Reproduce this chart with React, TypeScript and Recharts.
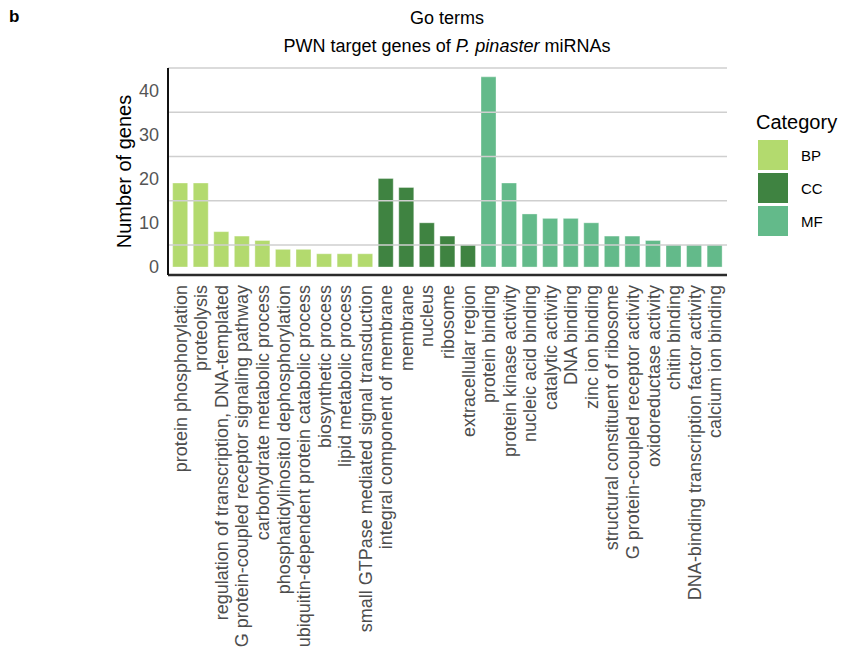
import React from "react";
import {
  BarChart,
  Bar,
  Cell,
  XAxis,
  YAxis,
  ReferenceLine,
  Label,
} from "recharts";

// GO terms and gene counts, grouped by category
const terms = [
  "protein phosphorylation",
  "proteolysis",
  "regulation of transcription, DNA-templated",
  "G protein-coupled receptor signaling pathway",
  "carbohydrate metabolic process",
  "phosphatidylinositol dephosphorylation",
  "ubiquitin-dependent protein catabolic process",
  "biosynthetic process",
  "lipid metabolic process",
  "small GTPase mediated signal transduction",
  "integral component of membrane",
  "membrane",
  "nucleus",
  "ribosome",
  "extracellular region",
  "protein binding",
  "protein kinase activity",
  "nucleic acid binding",
  "catalytic activity",
  "DNA binding",
  "zinc ion binding",
  "structural constituent of ribosome",
  "G protein-coupled receptor activity",
  "oxidoreductase activity",
  "chitin binding",
  "DNA-binding transcription factor activity",
  "calcium ion binding",
];

const geneCounts = [
  19, 19, 8, 7, 6, 4, 4, 3, 3, 3,
  20, 18, 10, 7, 5,
  43, 19, 12, 11, 11, 10, 7, 7, 6, 5, 5, 5,
];

const termCategory = [
  "BP", "BP", "BP", "BP", "BP", "BP", "BP", "BP", "BP", "BP",
  "CC", "CC", "CC", "CC", "CC",
  "MF", "MF", "MF", "MF", "MF", "MF", "MF", "MF", "MF", "MF", "MF", "MF",
];

const categories = ["BP", "CC", "MF"];
const yTicks = [0, 10, 20, 30, 40];
const gridValues = [5, 15, 25, 35, 45];

const categoryColors: Record<string, string> = {
  BP: "#abd65e",
  CC: "#2a752c",
  MF: "#52b27d",
};

const FONT = '"Liberation Sans", Arial, Helvetica, sans-serif';

const data = terms.map((term, i) => ({
  term,
  genes: geneCounts[i],
  category: termCategory[i],
}));

function TermTick({ x, y, payload }: any) {
  return (
    <text
      transform={`translate(${x},${y}) rotate(-90)`}
      textAnchor="end"
      dy="0.36em"
      fontSize={18}
      fontFamily={FONT}
      fill="#4d4d4d"
    >
      {payload.value}
    </text>
  );
}

export default function App() {
  return (
    <div
      style={{
        position: "absolute",
        left: 0,
        top: 0,
        width: 843,
        height: 660,
        background: "#fff",
        fontFamily: FONT,
      }}
    >
      <div style={{ position: "absolute", left: 9, top: 7, fontSize: 17, fontWeight: "bold" }}>b</div>
      <div
        style={{
          position: "absolute",
          left: 197,
          width: 500,
          top: 4,
          textAlign: "center",
          fontSize: 18,
          lineHeight: "28px",
          color: "#000",
        }}
      >
        <div>Go terms</div>
        <div>
          PWN target genes of <i>P. pinaster</i> miRNAs
        </div>
      </div>

      <BarChart
        width={843}
        height={660}
        data={data}
        margin={{ top: 68, right: 116, bottom: 5, left: 80 }}
        barCategoryGap="13%"
      >
        <XAxis
          dataKey="term"
          interval={0}
          height={380}
          tickSize={0}
          tickMargin={10}
          tick={<TermTick />}
          axisLine={{ stroke: "#2b2b2b", strokeWidth: 2.5 }}
          tickLine={false}
          padding={{ left: 2, right: 2 }}
        />
        <YAxis
          width={88}
          domain={[-1.8, 45]}
          ticks={yTicks}
          allowDataOverflow
          tickSize={0}
          tickMargin={9}
          tickLine={false}
          axisLine={{ stroke: "#111", strokeWidth: 2 }}
          tick={{ fontSize: 18, fill: "#555", fontFamily: FONT }}
        >
          <Label
            value="Number of genes"
            angle={-90}
            position="center"
            style={{ fontSize: 20, fill: "#000", fontFamily: FONT }}
          />
        </YAxis>
        {gridValues.map((v) => (
          <ReferenceLine key={v} y={v} stroke="#cfcfcf" strokeWidth={1.5} ifOverflow="extendDomain" />
        ))}
        <Bar
          dataKey="genes"
          isAnimationActive={false}
          fillOpacity={0.9}
          stroke="#ffffff"
          strokeOpacity={0.35}
          strokeWidth={1}
        >
          {data.map((d, i) => (
            <Cell key={i} fill={categoryColors[d.category]} />
          ))}
        </Bar>
      </BarChart>

      <div style={{ position: "absolute", left: 756, top: 111, fontSize: 20, color: "#000" }}>
        Category
      </div>
      {categories.map((c, i) => (
        <div
          key={c}
          style={{
            position: "absolute",
            left: 758,
            top: 140 + i * 33,
            display: "flex",
            alignItems: "center",
          }}
        >
          <div
            style={{
              width: 30,
              height: 30,
              background: categoryColors[c],
              opacity: 0.9,
            }}
          />
          <span style={{ marginLeft: 13, fontSize: 15, color: "#000" }}>{c}</span>
        </div>
      ))}
    </div>
  );
}
